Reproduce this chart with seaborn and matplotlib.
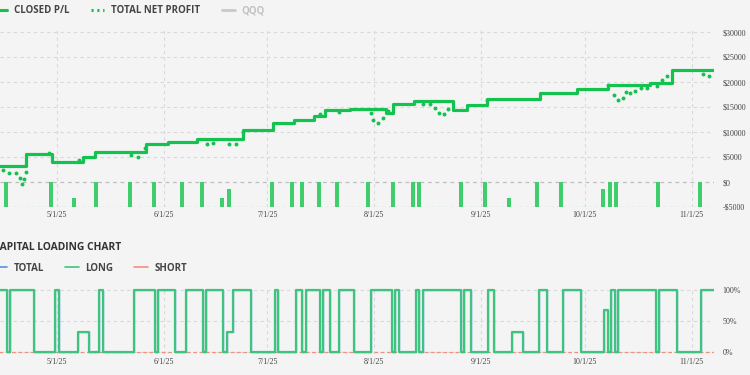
import numpy as np
import pandas as pd
import matplotlib
matplotlib.use("Agg")
import matplotlib.pyplot as plt
import matplotlib.dates as mdates
from matplotlib.lines import Line2D
import seaborn as sns

# ---------------- data ----------------
pl_dates = ["2025-04-14 00:00", "2025-04-22 00:00", "2025-04-29 13:00", "2025-05-08 13:00",
            "2025-05-12 00:00", "2025-05-26 19:00", "2025-06-02 04:00", "2025-06-10 14:00",
            "2025-06-23 22:00", "2025-07-02 15:00", "2025-07-08 17:00", "2025-07-14 12:00",
            "2025-07-17 16:00", "2025-07-24 22:00", "2025-08-04 09:00", "2025-08-06 09:00",
            "2025-08-12 12:00", "2025-08-23 19:00", "2025-08-27 20:00", "2025-09-02 15:00",
            "2025-09-18 00:00", "2025-09-28 17:00", "2025-10-07 17:00", "2025-10-19 21:00",
            "2025-10-26 06:00", "2025-11-07 12:00"]
pl_values = [3300, 5650, 4050, 5000, 6000, 7530, 8000, 8670, 10500, 11730, 12330, 13200,
             14330, 14600, 13870, 15530, 16200, 14400, 15400, 16530, 17870, 18670, 19400,
             19870, 22400, 22400]

net_dates = ["2025-04-15 10:00", "2025-04-17 04:00", "2025-04-19 03:00", "2025-04-20 07:00",
             "2025-04-20 18:00", "2025-04-21 10:00", "2025-04-21 22:00", "2025-04-28 18:00",
             "2025-05-07 11:00", "2025-05-22 11:00", "2025-05-24 09:00", "2025-05-26 12:00",
             "2025-06-13 09:00", "2025-06-15 07:00", "2025-06-19 23:00", "2025-06-21 21:00",
             "2025-06-23 20:00", "2025-07-16 06:00", "2025-07-21 20:00", "2025-07-31 00:00",
             "2025-07-31 16:00", "2025-08-02 03:00", "2025-08-03 14:00", "2025-08-05 01:00",
             "2025-08-15 00:00", "2025-08-17 03:00", "2025-08-18 14:00", "2025-08-19 19:00",
             "2025-08-21 04:00", "2025-08-22 10:00", "2025-09-02 17:00", "2025-10-07 19:00",
             "2025-10-09 13:00", "2025-10-10 12:00", "2025-10-12 04:00", "2025-10-12 20:00",
             "2025-10-14 02:00", "2025-10-15 13:00", "2025-10-17 05:00", "2025-10-18 22:00",
             "2025-10-21 20:00", "2025-10-23 07:00", "2025-10-24 17:00", "2025-11-04 08:00",
             "2025-11-06 02:00"]
net_values = [2330, 1730, 1730, 870, -470, 670, 2070, 5800, 4400, 5330, 5000, 6870,
              7670, 7870, 7530, 7530, 10000, 13530, 14070, 13730, 12330, 11800, 12730, 14200,
              15530, 15530, 14730, 13730, 13670, 14670, 16330, 19330, 17400, 16330, 16730,
              18070, 17730, 18200, 18730, 18730, 19200, 20330, 21200, 21670, 21200]

trade_dates = ["2025-04-16 05:00", "2025-04-29 06:00", "2025-05-05 22:00", "2025-05-12 07:00",
               "2025-05-22 04:00", "2025-05-29 03:00", "2025-06-06 06:00", "2025-06-12 01:00",
               "2025-06-17 20:00", "2025-06-19 21:00", "2025-07-02 08:00", "2025-07-08 03:00",
               "2025-07-11 00:00", "2025-07-15 23:00", "2025-07-21 04:00", "2025-07-30 03:00",
               "2025-08-06 09:00", "2025-08-12 05:00", "2025-08-13 22:00", "2025-08-26 02:00",
               "2025-09-02 01:00", "2025-09-09 00:00", "2025-09-17 03:00", "2025-09-24 02:00",
               "2025-10-06 06:00", "2025-10-08 07:00", "2025-10-10 01:00", "2025-10-22 05:00",
               "2025-11-03 09:00"]
trade_tops = [0, 0, -3200, 0, 0, 0, 0, 0, -3200, -1400, 0, 0, 0, 0, 0, 0, 0, 0, 0, 0,
              0, -3200, 0, 0, -1400, 0, 0, 0, 0]
trade_base = -5000

load_dates = ["2025-04-14 00:00", "2025-04-16 12:00", "2025-04-17 09:00", "2025-04-24 08:00",
              "2025-04-30 10:00", "2025-05-01 14:00", "2025-05-07 02:00", "2025-05-10 07:00",
              "2025-05-13 04:00", "2025-05-14 08:00", "2025-05-23 08:00", "2025-05-29 10:00",
              "2025-05-30 07:00", "2025-06-04 05:00", "2025-06-07 09:00", "2025-06-12 08:00",
              "2025-06-13 05:00", "2025-06-18 03:00", "2025-06-19 07:00", "2025-06-21 00:00",
              "2025-06-26 06:00", "2025-07-03 05:00", "2025-07-04 01:00", "2025-07-09 07:00",
              "2025-07-11 00:00", "2025-07-12 04:00", "2025-07-16 06:00", "2025-07-17 02:00",
              "2025-07-19 03:00", "2025-07-21 18:00", "2025-07-26 02:00", "2025-07-31 00:00",
              "2025-08-06 02:00", "2025-08-06 23:00", "2025-08-08 03:00", "2025-08-13 01:00",
              "2025-08-13 22:00", "2025-08-15 02:00", "2025-08-26 02:00", "2025-08-26 23:00",
              "2025-08-29 00:00", "2025-09-02 22:00", "2025-09-04 16:00", "2025-09-09 21:00",
              "2025-09-13 02:00", "2025-09-17 17:00", "2025-09-20 01:00", "2025-09-24 16:00",
              "2025-09-29 21:00", "2025-10-06 13:00", "2025-10-07 17:00", "2025-10-08 14:00",
              "2025-10-09 18:00", "2025-10-10 15:00", "2025-10-21 15:00", "2025-10-22 12:00",
              "2025-10-27 17:00", "2025-11-03 16:00", "2025-11-07 12:00"]
load_long = [100, 0, 100, 0, 100, 0, 33, 0, 100, 0,
             100, 0, 100, 0, 100, 0, 100, 0, 33, 100,
             0, 100, 0, 100, 0, 100, 0, 100, 0, 100,
             0, 100, 0, 100, 0, 100, 0, 100, 0, 100,
             0, 100, 0, 33, 0, 100, 0, 100, 0, 67,
             0, 100, 0, 100, 0, 100, 0, 100, 100]
load_total = list(load_long)  # no short exposure: total equals long
short_dates = ["2025-04-14 00:00", "2025-11-07 12:00"]
short_values = [0, 0]

y_ticks = [-5000, 0, 5000, 10000, 15000, 20000, 25000, 30000]
y_tick_labels = ["-$5000", "$0", "$5000", "$10000", "$15000", "$20000", "$25000", "$30000"]
load_ticks = [0, 50, 100]
load_tick_labels = ["0%", "50%", "100%"]
month_ticks = ["2025-05-01", "2025-06-01", "2025-07-01", "2025-08-01",
               "2025-09-01", "2025-10-01", "2025-11-01"]
x_tick_labels = ["5/1/25", "6/1/25", "7/1/25", "8/1/25", "9/1/25", "10/1/25", "11/1/25"]
legend_top = ["CLOSED P/L", "TOTAL NET PROFIT", "QQQ"]
legend_bottom = ["TOTAL", "LONG", "SHORT"]
title_bottom = "CAPITAL LOADING CHART"
x_range = ["2025-04-14 11:30", "2025-11-07 10:00"]

# ---------------- style ----------------
sns.set_theme(style="white")
plt.rcParams['font.family'] = ['Open Sans', 'DejaVu Sans']

BG = "#f4f4f4"
PL_GREEN = "#14c250"
BAR_GREEN = "#3fcd6d"
LONG_GREEN = "#3ec47e"
TOTAL_BLUE = "#5b8fe0"
SHORT_RED = "#f2907f"
GRID = "#d9d9d9"
TXT = "#454545"
TICK_FONT = "Liberation Serif"

fig = plt.figure(figsize=(7.5, 3.75), dpi=100, facecolor=BG)
ax1 = fig.add_axes([0.0, 0.448, 0.952, 0.48], facecolor=BG)
ax2 = fig.add_axes([0.0, 0.056, 0.952, 0.179], facecolor=BG)

xr = pd.to_datetime(x_range)
mt = mdates.date2num(pd.to_datetime(month_ticks))

# ---------- top panel ----------
td = pd.to_datetime(trade_dates)
heights = [t - trade_base for t in trade_tops]
ax1.bar(td, heights, bottom=trade_base, width=0.95, color=BAR_GREEN, zorder=2, linewidth=0)

sns.lineplot(x=pd.to_datetime(pl_dates), y=pl_values, ax=ax1, color=PL_GREEN,
             linewidth=2.3, drawstyle="steps-post", legend=False, zorder=3)
sns.scatterplot(x=pd.to_datetime(net_dates), y=net_values, ax=ax1, color=PL_GREEN,
                s=8, linewidth=0, legend=False, zorder=4)

ax1.axhline(trade_base, color="#8fe0a8", linestyle=(0, (3, 2)), linewidth=0.9, zorder=1)

ax1.set_xlim(xr[0], xr[1])
ax1.set_ylim(-5000, 31000)
ax1.set_yticks(y_ticks, y_tick_labels)
ax1.yaxis.tick_right()
ax1.set_xticks(mt, x_tick_labels)
ax1.set_xlabel("")
ax1.set_ylabel("")

ax1.grid(True, color=GRID, linestyle=(0, (3, 3)), linewidth=0.8, zorder=0)
for yv, gl in zip(ax1.get_yticks(), ax1.get_ygridlines()):
    if yv == 0:
        gl.set_color("#bdbdbd")
        gl.set_linewidth(0.9)
    if yv == trade_base:
        gl.set_visible(False)

# ---------- bottom panel ----------
ld = pd.to_datetime(load_dates)
sns.lineplot(x=pd.to_datetime(short_dates), y=short_values, ax=ax2, color=SHORT_RED,
             linewidth=0.9, linestyle=(0, (3, 2)), legend=False, zorder=2)
sns.lineplot(x=ld, y=load_total, ax=ax2, color=TOTAL_BLUE, linewidth=1.0,
             drawstyle="steps-post", legend=False, zorder=3)
sns.lineplot(x=ld, y=load_long, ax=ax2, color=LONG_GREEN, linewidth=1.6,
             drawstyle="steps-post", legend=False, zorder=4)

ax2.set_xlim(xr[0], xr[1])
ax2.set_ylim(-3, 105)
ax2.set_yticks(load_ticks, load_tick_labels)
ax2.yaxis.tick_right()
ax2.set_xticks(mt, x_tick_labels)
ax2.set_xlabel("")
ax2.set_ylabel("")
ax2.grid(True, color=GRID, linestyle=(0, (3, 3)), linewidth=0.8, zorder=0)

for ax in (ax1, ax2):
    for s in ax.spines.values():
        s.set_visible(False)
    ax.tick_params(axis="both", length=0, labelsize=5.8, labelcolor=TXT,
                   labelfontfamily=TICK_FONT)
    ax.tick_params(axis="y", pad=6)
    ax.tick_params(axis="x", pad=3)

# ---------- legends / titles ----------
h_top = [Line2D([], [], color=PL_GREEN, lw=2.2),
         Line2D([], [], color=PL_GREEN, lw=2.2, ls=(0, (0.7, 1.2))),
         Line2D([], [], color="#c9c9c9", lw=2.0)]
leg1 = fig.legend(h_top, legend_top, loc="center left", bbox_to_anchor=(-0.008, 0.971),
                  ncol=3, frameon=False, borderpad=0, borderaxespad=0,
                  handlelength=1.35, handletextpad=0.72, columnspacing=2.2,
                  prop={"family": ["Open Sans", "DejaVu Sans"], "weight": "bold", "size": 7})
for t in leg1.get_texts():
    t.set_color(TXT)
leg1.get_texts()[2].set_color("#c2c2c2")

fig.text(-0.0088, 0.341, title_bottom, ha="left", va="center", fontsize=7.4,
         fontweight="bold", color="#333333", family=["Open Sans", "DejaVu Sans"])

h_bot = [Line2D([], [], color=TOTAL_BLUE, lw=1.2),
         Line2D([], [], color=LONG_GREEN, lw=1.2),
         Line2D([], [], color=SHORT_RED, lw=1.2)]
leg2 = fig.legend(h_bot, legend_bottom, loc="center left", bbox_to_anchor=(-0.008, 0.285),
                  ncol=3, frameon=False, borderpad=0, borderaxespad=0,
                  handlelength=1.35, handletextpad=0.72, columnspacing=2.15,
                  prop={"family": ["Open Sans", "DejaVu Sans"], "weight": "bold", "size": 7})
for t in leg2.get_texts():
    t.set_color(TXT)

fig.savefig("out.png", dpi=100, facecolor=BG)
